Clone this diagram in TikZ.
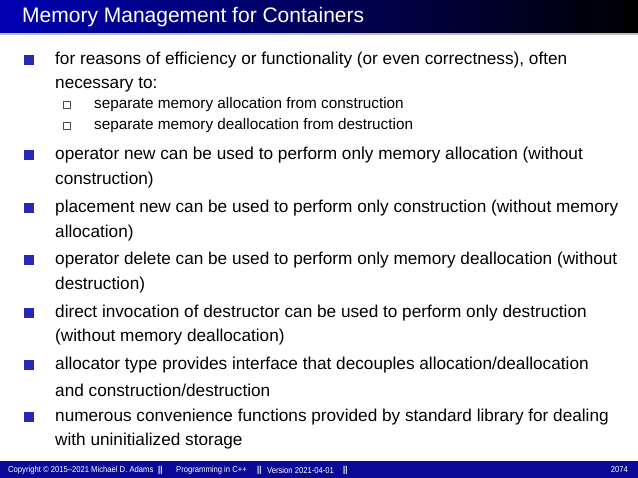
\documentclass[tikz,border=0pt]{standalone}
\usepackage{fontspec}
\setmainfont{Liberation Sans}
\definecolor{bblue}{RGB}{40,40,180}
\definecolor{fblue}{RGB}{10,10,150}
\begin{document}
\begin{tikzpicture}[x=1pt,y=-1pt,
  body/.style={anchor=west,inner sep=0pt,font=\fontsize{17.2}{20}\selectfont},
  sub/.style={anchor=west,inner sep=0pt,font=\fontsize{15.3}{17}\selectfont},
  foot/.style={anchor=west,inner sep=0pt,font=\fontsize{8.6}{10}\selectfont,text=white,xscale=0.89}]
\useasboundingbox (0,0) rectangle (638,478);
\shade[left color=blue!70!black,right color=black] (0,0) rectangle (638,33);
\fill[black!25] (0,33) rectangle (638,35);
\node[anchor=west,inner sep=0pt,text=white,font=\fontsize{21}{24}\selectfont] (title) at (22,17) {Memory Management for Containers};
\foreach \y in {60,155,208,260,313,365,417}{\fill[bblue] (24,\y-5) rectangle (34,\y+5);}
\foreach \y in {105,126}{\draw[black!70,line width=0.6pt] (63.5,\y-3.5) rectangle (70.5,\y+3.5);}
\node[body] (b1) at (55,60) {for reasons of efficiency or functionality (or even correctness), often};
\node[body] (b1b) at (55,85) {necessary to:};
\node[sub] (s1) at (94,105) {separate memory allocation from construction};
\node[sub] (s2) at (94,126) {separate memory deallocation from destruction};
\node[body] (b2) at (55,155) {operator new can be used to perform only memory allocation (without};
\node[body] (b2b) at (55,180) {construction)};
\node[body] (b3) at (55,208) {placement new can be used to perform only construction (without memory};
\node[body] (b3b) at (55,233) {allocation)};
\node[body] (b4) at (55,260) {operator delete can be used to perform only memory deallocation (without};
\node[body] (b4b) at (55,285) {destruction)};
\node[body] (b5) at (55,313) {direct invocation of destructor can be used to perform only destruction};
\node[body] (b5b) at (55,337) {(without memory deallocation)};
\node[body] (b6) at (55,365) {allocator type provides interface that decouples allocation/deallocation};
\node[body] (b6b) at (55,390) {and construction/destruction};
\node[body] (b7) at (55,417) {numerous convenience functions provided by standard library for dealing};
\node[body] (b7b) at (55,441) {with uninitialized storage};
\fill[fblue] (0,461) rectangle (638,478);
\node[foot] (f1) at (8,470) {Copyright © 2015–2021 Michael D. Adams};
\node[foot] (f2) at (158,470) {\textbf{||}};
\node[foot] (f3) at (176,470) {Programming in C++};
\node[foot] (f4) at (257,470) {\textbf{||}};
\node[foot] (f5) at (267,470) {Version 2021-04-01};
\node[foot] (f6) at (343,470) {\textbf{||}};
\node[foot,anchor=east] (f7) at (628,470) {2074};
\end{tikzpicture}
\end{document}
